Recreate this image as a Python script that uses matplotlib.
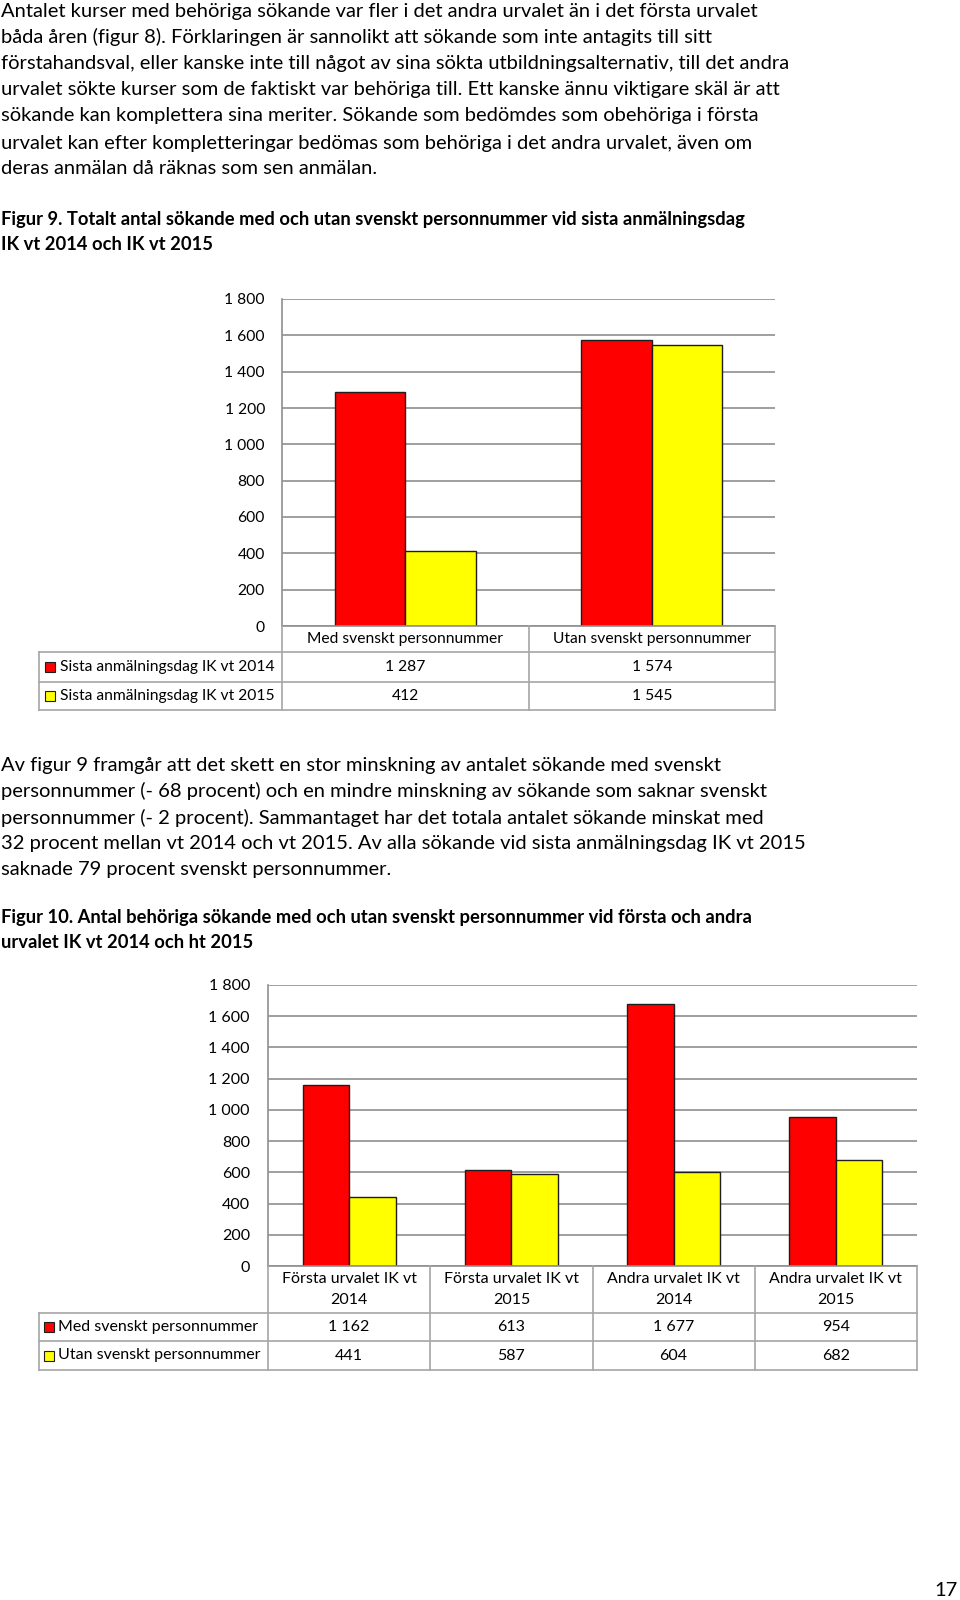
import matplotlib
matplotlib.use("Agg")
import matplotlib.pyplot as plt
from matplotlib.lines import Line2D
from matplotlib.patches import Rectangle

# ---------------- data ----------------
para1 = [
    "Antalet kurser med behöriga sökande var fler i det andra urvalet än i det första urvalet",
    "båda åren (figur 8). Förklaringen är sannolikt att sökande som inte antagits till sitt",
    "förstahandsval, eller kanske inte till något av sina sökta utbildningsalternativ, till det andra",
    "urvalet sökte kurser som de faktiskt var behöriga till. Ett kanske ännu viktigare skäl är att",
    "sökande kan komplettera sina meriter. Sökande som bedömdes som obehöriga i första",
    "urvalet kan efter kompletteringar bedömas som behöriga i det andra urvalet, även om",
    "deras anmälan då räknas som sen anmälan.",
]
title1 = [
    "Figur 9. Totalt antal sökande med och utan svenskt personnummer vid sista anmälningsdag",
    "IK vt 2014 och IK vt 2015",
]
para2 = [
    "Av figur 9 framgår att det skett en stor minskning av antalet sökande med svenskt",
    "personnummer (- 68 procent) och en mindre minskning av sökande som saknar svenskt",
    "personnummer (- 2 procent). Sammantaget har det totala antalet sökande minskat med",
    "32 procent mellan vt 2014 och vt 2015. Av alla sökande vid sista anmälningsdag IK vt 2015",
    "saknade 79 procent svenskt personnummer.",
]
title2 = [
    "Figur 10. Antal behöriga sökande med och utan svenskt personnummer vid första och andra",
    "urvalet IK vt 2014 och ht 2015",
]
page_number = "17"

c1_categories = ["Med svenskt personnummer", "Utan svenskt personnummer"]
c1_series_names = ["Sista anmälningsdag IK vt 2014", "Sista anmälningsdag IK vt 2015"]
c1_vt2014 = [1287, 1574]
c1_vt2015 = [412, 1545]

c2_categories = ["Första urvalet IK vt\n2014", "Första urvalet IK vt\n2015",
                 "Andra urvalet IK vt\n2014", "Andra urvalet IK vt\n2015"]
c2_series_names = ["Med svenskt personnummer", "Utan svenskt personnummer"]
c2_med = [1162, 613, 1677, 954]
c2_utan = [441, 587, 604, 682]

y_ticks = [0, 200, 400, 600, 800, 1000, 1200, 1400, 1600, 1800]

# ---------------- style ----------------
RED = "#FF0000"
YELLOW = "#FFFF00"
EDGE = "#1e1e1e"
GRID = "#8f8f8f"
TLINE = "#a6a6a6"
FONT = ["Lato", "DejaVu Sans"]
plt.rcParams["font.family"] = FONT

W, H = 960, 1600
fig = plt.figure(figsize=(W / 100, H / 100), dpi=100)
renderer = fig.canvas.get_renderer()


def fx(x):
    return x / W


def fy(y):
    return 1 - y / H


def fit_size(text, target_px, weight="normal"):
    t = fig.text(0, 0, text, fontsize=20, fontweight=weight)
    w = t.get_window_extent(renderer).width
    t.remove()
    return 20 * target_px / w


def fmt(v):
    return f"{v:,}".replace(",", " ")


BODY = fit_size(para1[0], 762)
BOLD = fit_size(title1[0], 742, "bold")
CH1 = fit_size(c1_series_names[0], 215)
CH2 = fit_size(c2_series_names[0], 201)

# ---------------- text blocks ----------------
for s, y in zip(para1, [11, 37, 63, 90, 116, 143, 169]):
    fig.text(fx(1), fy(y), s, fontsize=BODY, va="center", ha="left", color="black")
for s, y in zip(title1, [219, 244]):
    fig.text(fx(1), fy(y), s, fontsize=BOLD, fontweight="bold", va="center", ha="left")
for s, y in zip(para2, [765, 791, 818, 844, 870]):
    fig.text(fx(1), fy(y), s, fontsize=BODY, va="center", ha="left")
for s, y in zip(title2, [917, 942]):
    fig.text(fx(1), fy(y), s, fontsize=BOLD, fontweight="bold", va="center", ha="left")
fig.text(fx(958), fy(1591), page_number, fontsize=BODY, va="center", ha="right")


def hline(x0, x1, y, color=TLINE, lw=1.2):
    fig.add_artist(Line2D([fx(x0), fx(x1)], [fy(y), fy(y)], color=color, lw=lw,
                          transform=fig.transFigure))


def vline(x, y0, y1, color=TLINE, lw=1.2):
    fig.add_artist(Line2D([fx(x), fx(x)], [fy(y0), fy(y1)], color=color, lw=lw,
                          transform=fig.transFigure))


def chart(left, right, top, bottom, cats, names, series, colors, fs, lab_right,
          row_bounds, table_left, header_lines_y, sq_x, text_x):
    ax = fig.add_axes([fx(left), fy(bottom), (right - left) / W, (bottom - top) / H])
    n = len(cats)
    bw = 0.287
    for k, (vals, col) in enumerate(zip(series, colors)):
        xs = [i + (k - 0.5) * bw for i in range(n)]
        ax.bar(xs, vals, width=bw, color=col, edgecolor=EDGE, linewidth=1.0, zorder=3)
    ax.set_xlim(-0.5, n - 0.5)
    ax.set_ylim(0, 1800)
    ax.set_yticks(y_ticks)
    ax.set_yticklabels([fmt(v) for v in y_ticks], fontsize=fs)
    ax.tick_params(axis="y", length=0, pad=(left - lab_right) * 0.72)
    ax.set_xticks([])
    ax.grid(axis="y", color=GRID, lw=1.2, zorder=0)
    for s in ["top", "right", "bottom"]:
        ax.spines[s].set_visible(False)
    ax.spines["left"].set_color(GRID)
    ax.spines["left"].set_linewidth(1.2)
    ax.patch.set_alpha(0)

    # table
    catw = (right - left) / n
    r0, r1, r2, r3 = row_bounds
    hline(left, right, r0, color=GRID)
    hline(table_left, right, r1)
    hline(table_left, right, r2)
    hline(table_left, right, r3)
    vline(table_left, r1, r3)
    for i in range(n + 1):
        vline(left + i * catw, r0, r3)
    for i, c in enumerate(cats):
        cx = left + (i + 0.5) * catw
        lines = c.split("\n")
        for j, ln in enumerate(lines):
            fig.text(fx(cx), fy(header_lines_y[len(lines) - 1][j]), ln, fontsize=fs,
                     ha="center", va="center")
    for k, (name, vals, col) in enumerate(zip(names, series, colors)):
        ya, yb = (r1, r2) if k == 0 else (r2, r3)
        cy = (ya + yb) / 2
        fig.add_artist(Rectangle((fx(sq_x), fy(cy + 5)), 10 / W, 10 / H, facecolor=col,
                                 edgecolor=EDGE, lw=0.8, transform=fig.transFigure))
        fig.text(fx(text_x), fy(cy), name, fontsize=fs, ha="left", va="center")
        for i, v in enumerate(vals):
            cx = left + (i + 0.5) * catw
            fig.text(fx(cx), fy(cy), fmt(v), fontsize=fs, ha="center", va="center")
    return ax


chart(282, 775, 299, 626, c1_categories, c1_series_names, [c1_vt2014, c1_vt2015],
      [RED, YELLOW], CH1, 265, (626, 652, 682, 710), 39,
      {0: [639], 1: [628, 650]}, 45, 60)

chart(268, 917, 985, 1266, c2_categories, c2_series_names, [c2_med, c2_utan],
      [RED, YELLOW], CH2, 250, (1266, 1313, 1341, 1370), 39,
      {0: [1289], 1: [1279, 1300]}, 44, 58)

fig.savefig("out.png", dpi=100, facecolor="white")
